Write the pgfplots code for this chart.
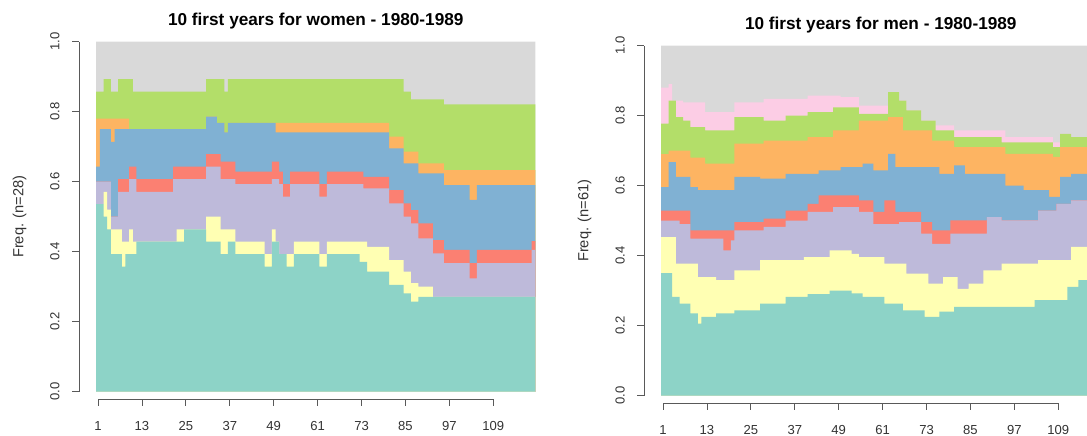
\documentclass[border=0pt]{standalone}
\usepackage{fontspec}
\setmainfont{Liberation Sans}
\usepackage{pgfplots}
\pgfplotsset{compat=1.18}

% Set3 state colours (TraMineR)
\definecolor{s1}{HTML}{8DD3C7}
\definecolor{s2}{HTML}{FFFFB3}
\definecolor{s3}{HTML}{BEBADA}
\definecolor{s4}{HTML}{FB8072}
\definecolor{s5}{HTML}{80B1D3}
\definecolor{s6}{HTML}{FDB462}
\definecolor{s7}{HTML}{B3DE69}
\definecolor{s8}{HTML}{FCCDE5}
\definecolor{s9}{HTML}{D9D9D9}

\pgfplotsset{
  seqd/.style={
    scale only axis, width=329.4pt, height=262.5pt,
    xmin=0.5, xmax=120.5, ymin=0, ymax=1,
    axis lines=left,
    axis x line shift=5.5pt, axis y line shift=12.9pt,
    axis line style={-, draw=black!65, line width=0.6pt},
    x axis line style={shorten <=1.37pt, shorten >=31.55pt},
    xtick={1,13,25,37,49,61,73,85,97,109},
    xticklabels={1,13,25,37,49,61,73,85,97,109},
    ytick={0,0.2,0.4,0.6,0.8,1},
    yticklabels={0.0,0.2,0.4,0.6,0.8,1.0},
    tick align=outside, major tick length=5pt,
    every tick/.style={draw=black!65, line width=0.6pt},
    ticklabel style={font=\fontsize{9.8}{11}\selectfont, text=black!80},
    yticklabel style={rotate=90, anchor=south},
    xticklabel shift=8pt, yticklabel shift=6pt,
    title style={at={(0.5,1)}, anchor=base, yshift=6.5pt,
      font=\bfseries\fontsize{12.9}{15}\selectfont},
    every axis y label/.style={at={([xshift=-57.5pt]rel axis cs:0,0.5)},
      rotate=90, anchor=center, font=\fontsize{11}{13}\selectfont, text=black!80},
    every axis plot/.append style={const plot, draw=none},
  }
}

\begin{document}
\begin{tikzpicture}
\useasboundingbox (0,0) rectangle (815.25pt,326.25pt);
\clip (0,0) rectangle (815.25pt,326.25pt);

% women
\begin{axis}[seqd, at={(72.15pt,32.475pt)}, anchor=south west,
  title={10 first years for women - 1980-1989}, ylabel={Freq. (n=28)}]
\addplot[fill=s9] coordinates {(0.5,1) (120.5,1)} \closedcycle;
\addplot[fill=s7] coordinates {(0.5,0.857) (2.5,0.893) (4.5,0.857) (6.5,0.893) (10.5,0.857) (30.5,0.893) (35.5,0.857) (36.5,0.893) (84.5,0.857) (86.5,0.835) (95.5,0.821) (120.5,0.821)} \closedcycle;
\addplot[fill=s6] coordinates {(0.5,0.78) (9.5,0.75) (30.5,0.786) (33.5,0.768) (35.5,0.741) (36.5,0.768) (80.5,0.729) (84.5,0.686) (88.5,0.652) (95.5,0.633) (120.5,0.633)} \closedcycle;
\addplot[fill=s5] coordinates {(0.5,0.643) (1.5,0.75) (4.5,0.714) (5.5,0.75) (30.5,0.786) (33.5,0.768) (35.5,0.741) (36.5,0.768) (49.5,0.741) (80.5,0.695) (84.5,0.652) (88.5,0.624) (95.5,0.59) (102.5,0.548) (104.5,0.59) (120.5,0.59)} \closedcycle;
\addplot[fill=s4] coordinates {(0.5,0.6) (4.5,0.5) (6.5,0.607) (9.5,0.643) (11.5,0.607) (21.5,0.643) (30.5,0.679) (34.5,0.657) (38.5,0.629) (48.5,0.657) (50.5,0.629) (51.5,0.593) (53.5,0.629) (61.5,0.593) (63.5,0.629) (73.5,0.614) (80.5,0.576) (84.5,0.538) (86.5,0.519) (88.5,0.481) (92.5,0.433) (95.5,0.405) (102.5,0.367) (104.5,0.405) (119.5,0.43) (120.5,0.43)} \closedcycle;
\addplot[fill=s3] coordinates {(0.5,0.6) (4.5,0.5) (6.5,0.571) (9.5,0.607) (11.5,0.571) (21.5,0.607) (30.5,0.643) (34.5,0.607) (38.5,0.593) (48.5,0.607) (50.5,0.593) (51.5,0.557) (53.5,0.593) (61.5,0.557) (63.5,0.593) (73.5,0.581) (80.5,0.538) (84.5,0.5) (86.5,0.481) (88.5,0.438) (92.5,0.395) (95.5,0.367) (102.5,0.324) (104.5,0.367) (119.5,0.405) (120.5,0.405)} \closedcycle;
\addplot[fill=s2] coordinates {(0.5,0.536) (2.5,0.571) (3.5,0.52) (4.5,0.464) (7.5,0.429) (9.5,0.464) (10.5,0.429) (22.5,0.464) (30.5,0.5) (34.5,0.464) (38.5,0.429) (46.5,0.393) (48.5,0.464) (49.5,0.429) (50.5,0.393) (54.5,0.429) (61.5,0.393) (63.5,0.429) (74.5,0.414) (80.5,0.376) (84.5,0.343) (86.5,0.31) (88.5,0.3) (92.5,0.271) (120.5,0.271)} \closedcycle;
\addplot[fill=s1] coordinates {(0.5,0.536) (2.5,0.5) (3.5,0.464) (4.5,0.393) (7.5,0.357) (8.5,0.393) (11.5,0.429) (24.5,0.464) (30.5,0.429) (34.5,0.393) (36.5,0.429) (38.5,0.393) (46.5,0.357) (48.5,0.429) (50.5,0.393) (52.5,0.357) (54.5,0.393) (61.5,0.357) (63.5,0.393) (72.5,0.371) (74.5,0.343) (80.5,0.305) (84.5,0.281) (86.5,0.257) (88.5,0.271) (120.5,0.271)} \closedcycle;
\end{axis}

% men
\begin{axis}[seqd, at={(495.9pt,29.475pt)}, anchor=south west,
  title={10 first years for men - 1980-1989}, ylabel={Freq. (n=61)}]
\addplot[fill=s9] coordinates {(0.5,1) (120.5,1)} \closedcycle;
\addplot[fill=s8] coordinates {(0.5,0.88) (2.5,0.89) (3.5,0.843) (6.5,0.838) (12.5,0.81) (20.5,0.838) (28.5,0.848) (40.5,0.857) (49.5,0.853) (54.5,0.829) (62.5,0.867) (65.5,0.843) (67.5,0.815) (71.5,0.786) (75.5,0.772) (80.5,0.758) (94.5,0.739) (107.5,0.724) (109.5,0.748) (112.5,0.739) (120.5,0.739)} \closedcycle;
\addplot[fill=s7] coordinates {(0.5,0.777) (2.5,0.843) (4.5,0.796) (6.5,0.786) (8.5,0.767) (12.5,0.758) (20.5,0.796) (28.5,0.786) (34.5,0.8) (40.5,0.81) (47.5,0.824) (54.5,0.805) (62.5,0.867) (65.5,0.843) (67.5,0.815) (71.5,0.786) (75.5,0.758) (80.5,0.739) (93.5,0.724) (107.5,0.71) (109.5,0.748) (112.5,0.739) (120.5,0.739)} \closedcycle;
\addplot[fill=s6] coordinates {(0.5,0.69) (2.5,0.7) (8.5,0.68) (12.5,0.663) (20.5,0.72) (28.5,0.729) (40.5,0.739) (47.5,0.758) (54.5,0.786) (62.5,0.796) (66.5,0.758) (74.5,0.729) (80.5,0.71) (94.5,0.691) (107.5,0.682) (109.5,0.71) (120.5,0.71)} \closedcycle;
\addplot[fill=s5] coordinates {(0.5,0.596) (2.5,0.667) (4.5,0.625) (8.5,0.596) (10.5,0.587) (20.5,0.625) (27.5,0.62) (34.5,0.634) (43.5,0.644) (49.5,0.653) (55.5,0.663) (58.5,0.644) (62.5,0.691) (64.5,0.653) (76.5,0.634) (80.5,0.658) (83.5,0.634) (94.5,0.6) (99.5,0.587) (106.5,0.568) (109.5,0.625) (112.5,0.634) (120.5,0.634)} \closedcycle;
\addplot[fill=s4] coordinates {(0.5,0.529) (8.5,0.472) (20.5,0.496) (28.5,0.506) (34.5,0.529) (40.5,0.548) (43.5,0.572) (54.5,0.558) (58.5,0.525) (61.5,0.558) (64.5,0.525) (71.5,0.496) (74.5,0.472) (79.5,0.501) (89.5,0.51) (93.5,0.501) (103.5,0.529) (108.5,0.548) (112.5,0.558) (120.5,0.558)} \closedcycle;
\addplot[fill=s3] coordinates {(0.5,0.5) (5.5,0.49) (8.5,0.449) (17.5,0.415) (19.5,0.444) (20.5,0.472) (28.5,0.482) (34.5,0.5) (40.5,0.525) (47.5,0.539) (54.5,0.525) (58.5,0.49) (65.5,0.496) (71.5,0.463) (74.5,0.434) (79.5,0.463) (89.5,0.51) (93.5,0.501) (103.5,0.529) (108.5,0.548) (112.5,0.558) (120.5,0.558)} \closedcycle;
\addplot[fill=s2] coordinates {(0.5,0.453) (4.5,0.377) (10.5,0.339) (15.5,0.33) (20.5,0.358) (27.5,0.387) (39.5,0.396) (46.5,0.415) (52.5,0.405) (54.5,0.396) (61.5,0.377) (67.5,0.349) (73.5,0.32) (77.5,0.339) (81.5,0.305) (84.5,0.32) (88.5,0.358) (93.5,0.377) (103.5,0.387) (112.5,0.425) (120.5,0.425)} \closedcycle;
\addplot[fill=s1] coordinates {(0.5,0.35) (3.5,0.282) (5.5,0.263) (8.5,0.235) (10.5,0.206) (11.5,0.225) (15.5,0.235) (20.5,0.244) (27.5,0.263) (34.5,0.282) (40.5,0.29) (46.5,0.3) (52.5,0.292) (55.5,0.282) (61.5,0.263) (66.5,0.244) (72.5,0.225) (76.5,0.24) (80.5,0.254) (102.5,0.273) (111.5,0.311) (114.5,0.33) (120.5,0.33)} \closedcycle;
\end{axis}
\end{tikzpicture}
\end{document}
